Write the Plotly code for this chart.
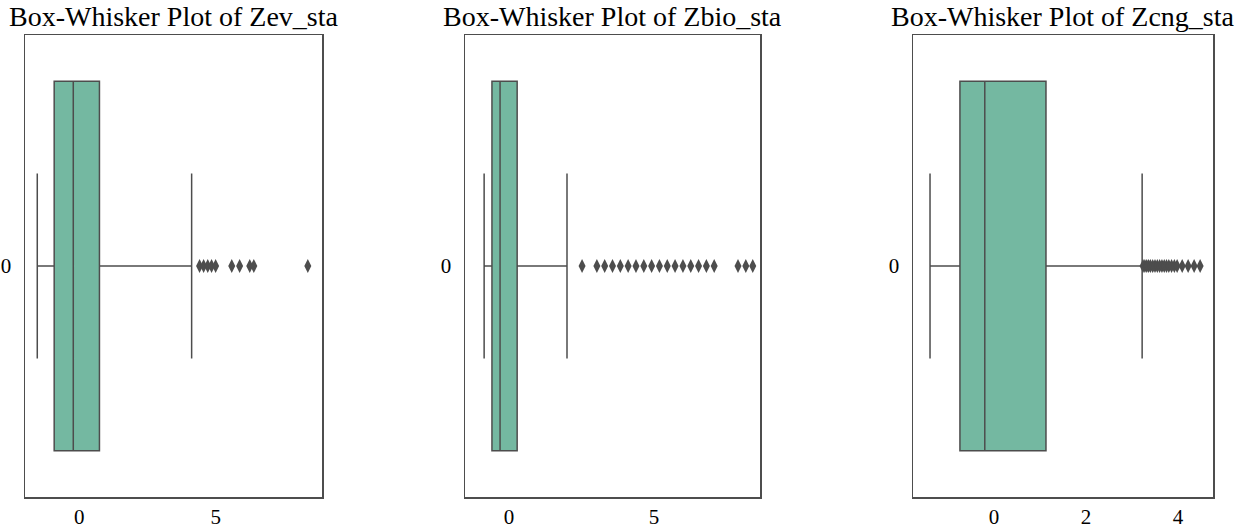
import plotly.graph_objects as go

# ---- data ----
titles = ["Box-Whisker Plot of Zev_sta", "Box-Whisker Plot of Zbio_sta", "Box-Whisker Plot of Zcng_sta"]
category = ["0"]

zev_stats = dict(lowerfence=-1.54, q1=-0.92, median=-0.22, q3=0.74, upperfence=4.12)
zev_outliers = [4.41, 4.56, 4.71, 4.85, 5.0, 5.59, 5.88, 6.25, 6.40, 8.38]

zbio_stats = dict(lowerfence=-0.86, q1=-0.59, median=-0.31, q3=0.28, upperfence=2.0)
zbio_outliers = [2.52, 3.03, 3.30, 3.57, 3.84, 4.11, 4.38, 4.65, 4.92, 5.19, 5.46,
                 5.73, 6.00, 6.27, 6.54, 6.81, 7.08, 7.90, 8.17, 8.41]

zcng_stats = dict(lowerfence=-1.39, q1=-0.74, median=-0.20, q3=1.13, upperfence=3.22)
zcng_outliers = [3.24, 3.28, 3.32, 3.36, 3.40, 3.45, 3.50, 3.55, 3.60, 3.65, 3.70,
                 3.75, 3.80, 3.86, 3.92, 3.98, 4.09, 4.22, 4.35, 4.48]

x_ranges = [[-1.99, 8.9], [-1.52, 8.66], [-1.76, 4.76]]
x_ticks = [[0, 5], [0, 5], [0, 2, 4]]

stats_list = [zev_stats, zbio_stats, zcng_stats]
outliers_list = [zev_outliers, zbio_outliers, zcng_outliers]

# ---- style ----
W, H = 1239, 529
FONT = "Liberation Serif, Times New Roman, serif"
BOX_FILL = "rgb(116,184,161)"
LINE = "rgb(77,77,77)"
x_domains_px = [(25, 322), (465, 760), (913, 1213)]
y_top_px, y_bot_px = 35, 497

fig = go.Figure()
layout = dict(
    width=W, height=H,
    margin=dict(l=0, r=0, t=0, b=0, autoexpand=False),
    paper_bgcolor="white", plot_bgcolor="white",
    showlegend=False,
    font=dict(family=FONT, size=18, color="black"),
    annotations=[],
)

ydom = [1 - y_bot_px / H, 1 - y_top_px / H]
for i in range(3):
    xa = "x" if i == 0 else f"x{i+1}"
    ya = "y" if i == 0 else f"y{i+1}"
    st = stats_list[i]
    fig.add_trace(go.Box(
        y=[0], q1=[st["q1"]], median=[st["median"]], q3=[st["q3"]],
        lowerfence=[st["lowerfence"]], upperfence=[st["upperfence"]],
        orientation="h", width=0.8, whiskerwidth=0.5,
        fillcolor=BOX_FILL, line=dict(color=LINE, width=1.5),
        boxpoints=False, hoverinfo="skip",
        xaxis=xa, yaxis=ya,
    ))
    fig.add_trace(go.Scatter(
        x=outliers_list[i], y=[0] * len(outliers_list[i]), mode="markers",
        marker=dict(symbol="diamond-tall", size=10, color=LINE, line=dict(width=0)),
        xaxis=xa, yaxis=ya, hoverinfo="skip",
    ))
    x0, x1 = x_domains_px[i]
    key_x = "xaxis" if i == 0 else f"xaxis{i+1}"
    key_y = "yaxis" if i == 0 else f"yaxis{i+1}"
    layout[key_x] = dict(
        domain=[x0 / W, x1 / W], range=x_ranges[i], anchor=ya,
        tickvals=x_ticks[i], ticktext=[str(t) for t in x_ticks[i]],
        showgrid=False, zeroline=False, ticks="", automargin=False,
        ticklabelstandoff=0,
        showline=True, mirror=True, linecolor=LINE, linewidth=1.5,
        tickfont=dict(family=FONT, size=21, color="black"),
    )
    layout[key_y] = dict(
        domain=ydom, range=[-0.5, 0.5], anchor=xa,
        tickvals=[0], ticktext=category,
        showgrid=False, zeroline=False, ticks="", automargin=False,
        ticklabelstandoff=8,
        showline=True, mirror=True, linecolor=LINE, linewidth=1.5,
        tickfont=dict(family=FONT, size=21, color="black"),
    )
    layout["annotations"].append(dict(
        text=titles[i], xref="paper", yref="paper",
        x=(x0 + x1) / 2 / W, y=1 - 17 / H, xanchor="center", yanchor="middle",
        showarrow=False, font=dict(family=FONT, size=28, color="black"),
    ))

fig.update_layout(**layout)
fig.write_html(
    "out.html",
    config={"displayModeBar": False, "staticPlot": True},
    post_script="document.body.style.margin='0';document.body.style.overflow='hidden';",
)
